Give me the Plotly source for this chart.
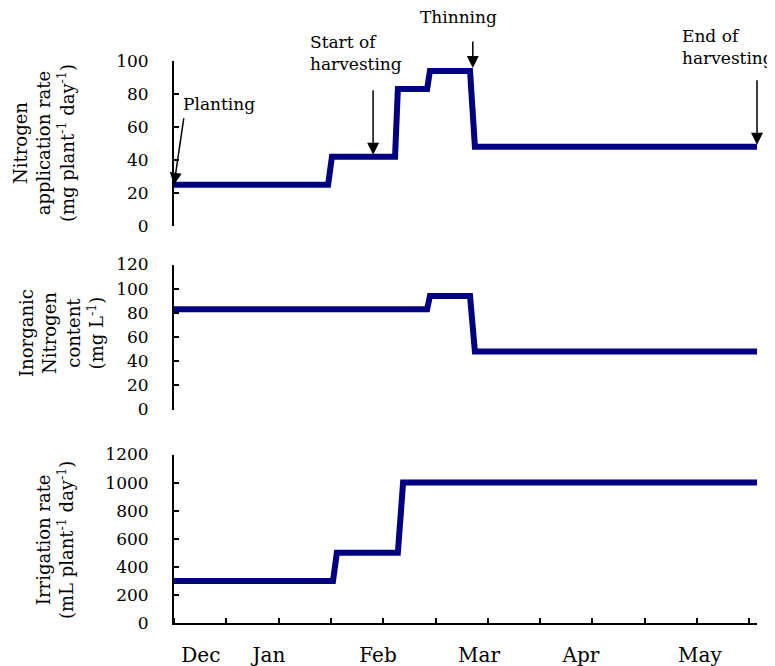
import plotly.graph_objects as go

# ---------------- data ----------------
nitrogen_days = [0, 44.2, 45.3, 63.4, 64.2, 72.6, 73.4, 84.9, 86.3, 167.2]
nitrogen_rate = [25, 25, 42, 42, 83, 83, 94, 94, 48, 48]

inorganic_days = [0, 72.6, 73.4, 84.9, 86.3, 167.2]
inorganic_n = [83, 83, 94, 94, 48, 48]

irrigation_days = [0, 45.6, 46.7, 64.2, 65.7, 167.2]
irrigation_rate = [300, 300, 500, 500, 1000, 1000]

month_labels = ["Dec", "Jan", "Feb", "Mar", "Apr", "May"]
month_label_days = [7.7, 27.2, 58.5, 87.5, 116.7, 150.8]
tick_days = [0, 15, 30, 45, 60, 75, 90, 105, 120, 135, 150, 165]

event_labels = ["Planting", "Start of<br>harvesting", "Thinning", "End of<br>harvesting"]
event_days = [0, 57.1, 85.7, 167.2]
event_levels = [25, 42, 94, 48]

# ---------------- layout helpers ----------------
OFF = 8  # page offset of the figure (body margin)
W, H = 775, 666
PLOT_L, PLOT_R, PLOT_T, PLOT_B = 174, 757, 20, 623  # target page pixels
ML = PLOT_L - OFF
MR = W - (PLOT_R - OFF)
MT = PLOT_T - OFF
MB = H - (PLOT_B - OFF)
PW, PH = PLOT_R - PLOT_L, PLOT_B - PLOT_T


def px_x(x):
    return (x - PLOT_L) / PW


def px_y(y):
    return (PLOT_B - y) / PH


FONT = "DejaVu Serif"
NAVY = "#000080"
LINE_W = 6

fig = go.Figure()
fig.add_trace(go.Scatter(x=nitrogen_days, y=nitrogen_rate, mode="lines",
                         line=dict(color=NAVY, width=LINE_W), xaxis="x3", yaxis="y3",
                         showlegend=False, hoverinfo="skip"))
fig.add_trace(go.Scatter(x=inorganic_days, y=inorganic_n, mode="lines",
                         line=dict(color=NAVY, width=LINE_W), xaxis="x2", yaxis="y2",
                         showlegend=False, hoverinfo="skip"))
fig.add_trace(go.Scatter(x=irrigation_days, y=irrigation_rate, mode="lines",
                         line=dict(color=NAVY, width=LINE_W), xaxis="x", yaxis="y",
                         showlegend=False, hoverinfo="skip"))

xr = [0, 167.2]
yaxis_common = dict(showline=True, linecolor="black", linewidth=2, ticks="inside",
                    ticklen=5, tickwidth=1.5, tickcolor="black", showgrid=False,
                    zeroline=False, tickfont=dict(family=FONT, size=17, color="black"),
                    ticklabelstandoff=20, automargin=False)
hidden_x = dict(range=xr, visible=False, showgrid=False, zeroline=False, automargin=False)

fig.update_layout(
    width=W, height=H,
    margin=dict(l=ML, r=MR, t=MT, b=MB),
    paper_bgcolor="white", plot_bgcolor="white",
    font=dict(family=FONT, size=17, color="black"),
    xaxis=dict(range=xr, domain=[0, 1], anchor="y", showline=True, linecolor="black",
               linewidth=2, showgrid=False, zeroline=False, automargin=False,
               tickmode="array", tickvals=month_label_days, ticktext=month_labels,
               ticks="", tickfont=dict(family=FONT, size=20, color="black"),
               ticklabelstandoff=13,
               minor=dict(tickmode="array", tickvals=tick_days, ticks="inside",
                          ticklen=5, tickwidth=1.5, tickcolor="black", showgrid=False)),
    xaxis2=dict(hidden_x, anchor="y2", domain=[0, 1]),
    xaxis3=dict(hidden_x, anchor="y3", domain=[0, 1]),
    yaxis=dict(yaxis_common, range=[0, 1200], dtick=200, tick0=0,
               domain=[0, px_y(454.5)], anchor="x"),
    yaxis2=dict(yaxis_common, range=[0, 120], dtick=20, tick0=0,
                domain=[px_y(409.5), px_y(264.5)], anchor="x2"),
    yaxis3=dict(yaxis_common, range=[0, 100], dtick=20, tick0=0,
                domain=[px_y(226), px_y(61)], anchor="x3"),
)

annotations = []
# axis titles (rotated)
titles = [
    ("Nitrogen<br>application rate<br>(mg plant<sup>-1</sup> day<sup>-1</sup>)", 44, 143),
    ("Inorganic<br>Nitrogen<br>content<br>(mg L<sup>-1</sup>)", 61, 333),
    ("Irrigation rate<br>(mL plant<sup>-1</sup> day<sup>-1</sup>)", 55, 540),
]
for txt, cx, cy in titles:
    annotations.append(dict(text=txt, xref="paper", yref="paper", x=px_x(cx), y=px_y(cy),
                            xanchor="center", yanchor="middle", textangle=-90,
                            showarrow=False, font=dict(family=FONT, size=18, color="black")))

# event labels (text) positions in pixels: (left/center x, center y, anchor)
label_pos = [(181, 104, "left"), (308, 53, "left"), (458, 17, "center"), (680, 47, "left")]
for txt, (lx, ly, anc) in zip(event_labels, label_pos):
    annotations.append(dict(text=txt, xref="paper", yref="paper", x=px_x(lx), y=px_y(ly),
                            xanchor=anc, yanchor="middle", align="left", showarrow=False,
                            font=dict(family=FONT, size=17, color="black")))

# event arrows pointing onto the nitrogen line
arrow_tails = [(10, -68, 0), (0, -68, 2), (0, -31, 3), (0, -68, 2)]
for d, lv, (axp, ayp, so) in zip(event_days, event_levels, arrow_tails):
    annotations.append(dict(text="", x=d, y=lv, xref="x3", yref="y3", ax=axp, ay=ayp,
                            showarrow=True, arrowhead=2, arrowsize=1.6, arrowwidth=1.5,
                            arrowcolor="black", standoff=so))

fig.update_layout(annotations=annotations)
fig.write_html("out.html")
